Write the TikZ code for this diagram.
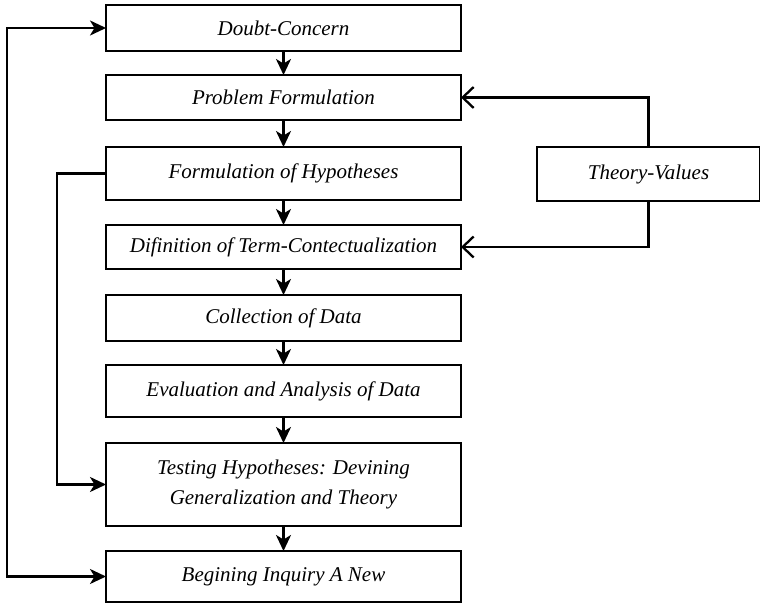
\documentclass[tikz,border=0pt]{standalone}
\usepackage{fontspec}
\newfontfamily\boxfont{Liberation Serif}
\usetikzlibrary{arrows.meta}
\tikzset{
  stepbox/.style={draw, line width=2.6pt, minimum width=355pt, inner sep=0pt, outer sep=0pt,
    align=center, font=\boxfont\itshape\fontsize{21}{30}\selectfont},
  flow/.style={line width=2.3pt, -{Stealth[length=16pt,width=15pt,inset=4.5pt]}},
  feed/.style={line width=2.3pt, -{Straight Barb[length=11pt,width=21pt,line width=2.3pt]}},
  loop/.style={line width=2.3pt, {Stealth[length=16pt,width=15pt,inset=4.5pt]}-{Stealth[length=16pt,width=15pt,inset=4.5pt]}},
}
\begin{document}
\begin{tikzpicture}[x=1pt,y=-1pt]
\useasboundingbox (0,0) rectangle (760,604);

% main sequence of stages
\node[stepbox, minimum height=46pt] (b1) at (283.5,28)    {Doubt-Concern};
\node[stepbox, minimum height=45pt] (b2) at (283.5,97.5)  {Problem Formulation};
\node[stepbox, minimum height=53pt] (b3) at (283.5,173.5) {Formulation of Hypotheses};
\node[stepbox, minimum height=44pt] (b4) at (283.5,247)   {Difinition of Term-Contectualization};
\node[stepbox, minimum height=46pt] (b5) at (283.5,318)   {Collection of Data};
\node[stepbox, minimum height=52pt] (b6) at (283.5,391)   {Evaluation and Analysis of Data};
\node[stepbox, minimum height=83pt] (b7) at (283.5,484.5) {Testing Hypotheses: Devining\\Generalization and Theory};
\node[stepbox, minimum height=51pt] (b8) at (283.5,576.5) {Begining Inquiry A New};

% side box
\node[stepbox, minimum width=223pt, minimum height=54pt] (tv) at (648.5,174) {Theory-Values};

% downward flow
\draw[flow] (b1) -- (b2);
\draw[flow] (b2) -- (b3);
\draw[flow] (b3) -- (b4);
\draw[flow] (b4) -- (b5);
\draw[flow] (b5) -- (b6);
\draw[flow] (b6) -- (b7);
\draw[flow] (b7) -- (b8);

% theory feeds problem and definition
\draw[feed] (tv.north) |- (b2.east);
\draw[feed] (tv.south) |- (b4.east);

% hypotheses straight to testing
\coordinate (hx) at (57,0);
\draw[flow] (b3.west) -- (b3.west -| hx) -- (b7.west -| hx) -- (b7.west);

% outer loop between start and new inquiry
\coordinate (lx) at (7,0);
\draw[loop] (b1.west) -- (b1.west -| lx) -- (b8.west -| lx) -- (b8.west);
\end{tikzpicture}
\end{document}
